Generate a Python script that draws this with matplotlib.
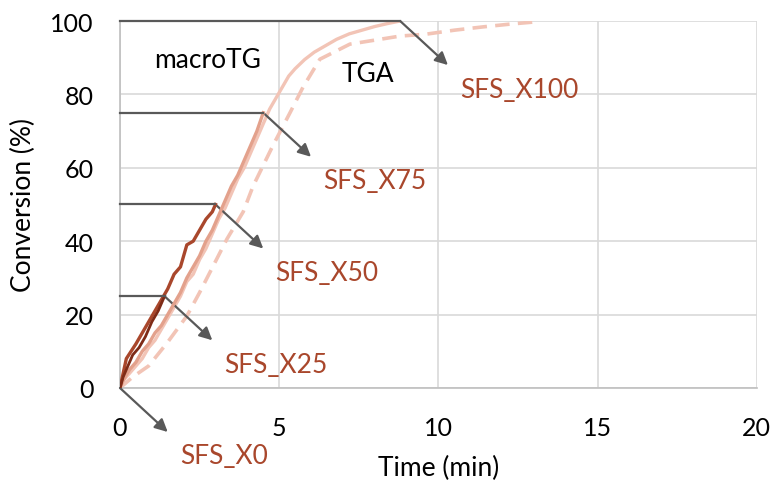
import matplotlib
matplotlib.use('Agg')
import matplotlib.pyplot as plt

plt.rcParams['font.family'] = ['Lato', 'DejaVu Sans']

# macroTG runs (solid)
x25_t = [0, 0.1, 0.25, 0.4, 0.6, 0.8, 1.0, 1.2, 1.4]
x25_c = [0, 3, 6, 9, 11, 14, 18, 21, 25]

x50_t = [0, 0.1, 0.2, 0.35, 0.5, 0.7, 0.9, 1.1, 1.3, 1.5, 1.7, 1.9, 2.1, 2.3, 2.5, 2.7, 2.9, 3.0]
x50_c = [0, 4, 8, 10, 12, 15, 18, 21, 24, 27, 31, 33, 39, 40, 43, 46, 48, 50]

x75_t = [0, 0.1, 0.3, 0.5, 0.7, 0.9, 1.1, 1.3, 1.5, 1.7, 1.9, 2.1, 2.3, 2.5, 2.7, 2.9,
         3.1, 3.3, 3.5, 3.7, 3.9, 4.1, 4.3, 4.5]
x75_c = [0, 2, 5, 7, 10, 12, 15, 17, 20, 23, 26, 30, 33, 36, 40, 43,
         47, 51, 55, 58, 62, 66, 70, 75]

x100_t = [0, 0.1, 0.3, 0.5, 0.7, 0.9, 1.1, 1.3, 1.5, 1.7, 1.9, 2.1, 2.3, 2.5, 2.7, 2.9,
          3.1, 3.3, 3.5, 3.7, 3.9, 4.1, 4.3, 4.5, 4.7, 4.9, 5.1, 5.3, 5.5, 5.8, 6.1,
          6.4, 6.8, 7.2, 7.6, 8.0, 8.4, 8.8]
x100_c = [0, 2, 4, 6, 8, 11, 13, 16, 19, 22, 25, 29, 31, 35, 38, 42,
          46, 49, 53, 57, 60, 64, 68, 72, 76, 79, 82, 85, 87, 89.5, 91.5,
          93, 95, 96.5, 97.5, 98.5, 99.3, 100]

# TGA run (dashed)
tga_t = [0, 0.4, 0.9, 1.5, 2.1, 2.5, 2.83, 3.36, 3.87, 4.18, 4.8, 5.34, 5.75, 6.28,
         7.22, 8.8, 9.6, 10.5, 11.4, 12.3, 13.1]
tga_c = [0, 3, 6, 12.5, 19.6, 26, 31.6, 40.6, 48, 55, 66, 75, 82, 89.6,
         93.7, 95.9, 96.4, 97.5, 98.4, 99.2, 99.8]

labels = ['SFS_X0', 'SFS_X25', 'SFS_X50', 'SFS_X75', 'SFS_X100']
end_t = [0, 1.4, 3.0, 4.5, 8.8]
end_c = [0, 25, 50, 75, 100]

fig = plt.figure(figsize=(7.77, 4.85), dpi=100)
ax = fig.add_axes([0.1544, 0.198, 0.8196, 0.7566])

ax.plot(tga_t, tga_c, color='#F2C4B6', lw=2.6, ls=(0, (4, 2.3)), zorder=2)
ax.plot(x100_t, x100_c, color='#F2C4B6', lw=2.4, zorder=3)
ax.plot(x75_t, x75_c, color='#E3A18C', lw=2.4, zorder=4)
ax.plot(x50_t, x50_c, color='#A9472C', lw=2.4, zorder=5)
ax.plot(x25_t, x25_c, color='#7E2B17', lw=2.0, zorder=6)

for lab, t, c in zip(labels, end_t, end_c):
    if t > 0:
        ax.plot([0, t], [c, c], color='#595959', lw=1.6, zorder=7, clip_on=False)
    ax.annotate('', xy=(t + 1.5, c - 12), xytext=(t, c),
                arrowprops=dict(arrowstyle='-|>', color='#595959', lw=1.6, mutation_scale=19,
                                shrinkA=0, shrinkB=0), annotation_clip=False)
    ax.annotate(lab, xy=(t, c), xytext=(60, -68), textcoords='offset pixels',
                color='#A9472C', fontsize=19, va='center', ha='left', annotation_clip=False)

ax.text(2.76, 89.6, 'macroTG', fontsize=19, ha='center', va='center')
ax.text(7.79, 85.6, 'TGA', fontsize=19, ha='center', va='center')

ax.set_xlim(0, 20)
ax.set_ylim(0, 100)
ax.set_xticks([0, 5, 10, 15, 20])
ax.set_yticks([0, 20, 40, 60, 80, 100])
ax.grid(True, color='#D9D9D9', lw=1.2)
ax.set_axisbelow(True)
for s in ['top', 'right']:
    ax.spines[s].set_visible(False)
for s in ['left', 'bottom']:
    ax.spines[s].set_color('#BFBFBF')
    ax.spines[s].set_linewidth(1.2)
ax.tick_params(length=0, labelsize=18)
ax.tick_params(axis='x', pad=20)
ax.tick_params(axis='y', pad=19)
ax.set_xlabel('Time (min)', fontsize=19, labelpad=12)
ax.set_ylabel('Conversion (%)', fontsize=19, labelpad=10)

fig.savefig('out.png', dpi=100)
